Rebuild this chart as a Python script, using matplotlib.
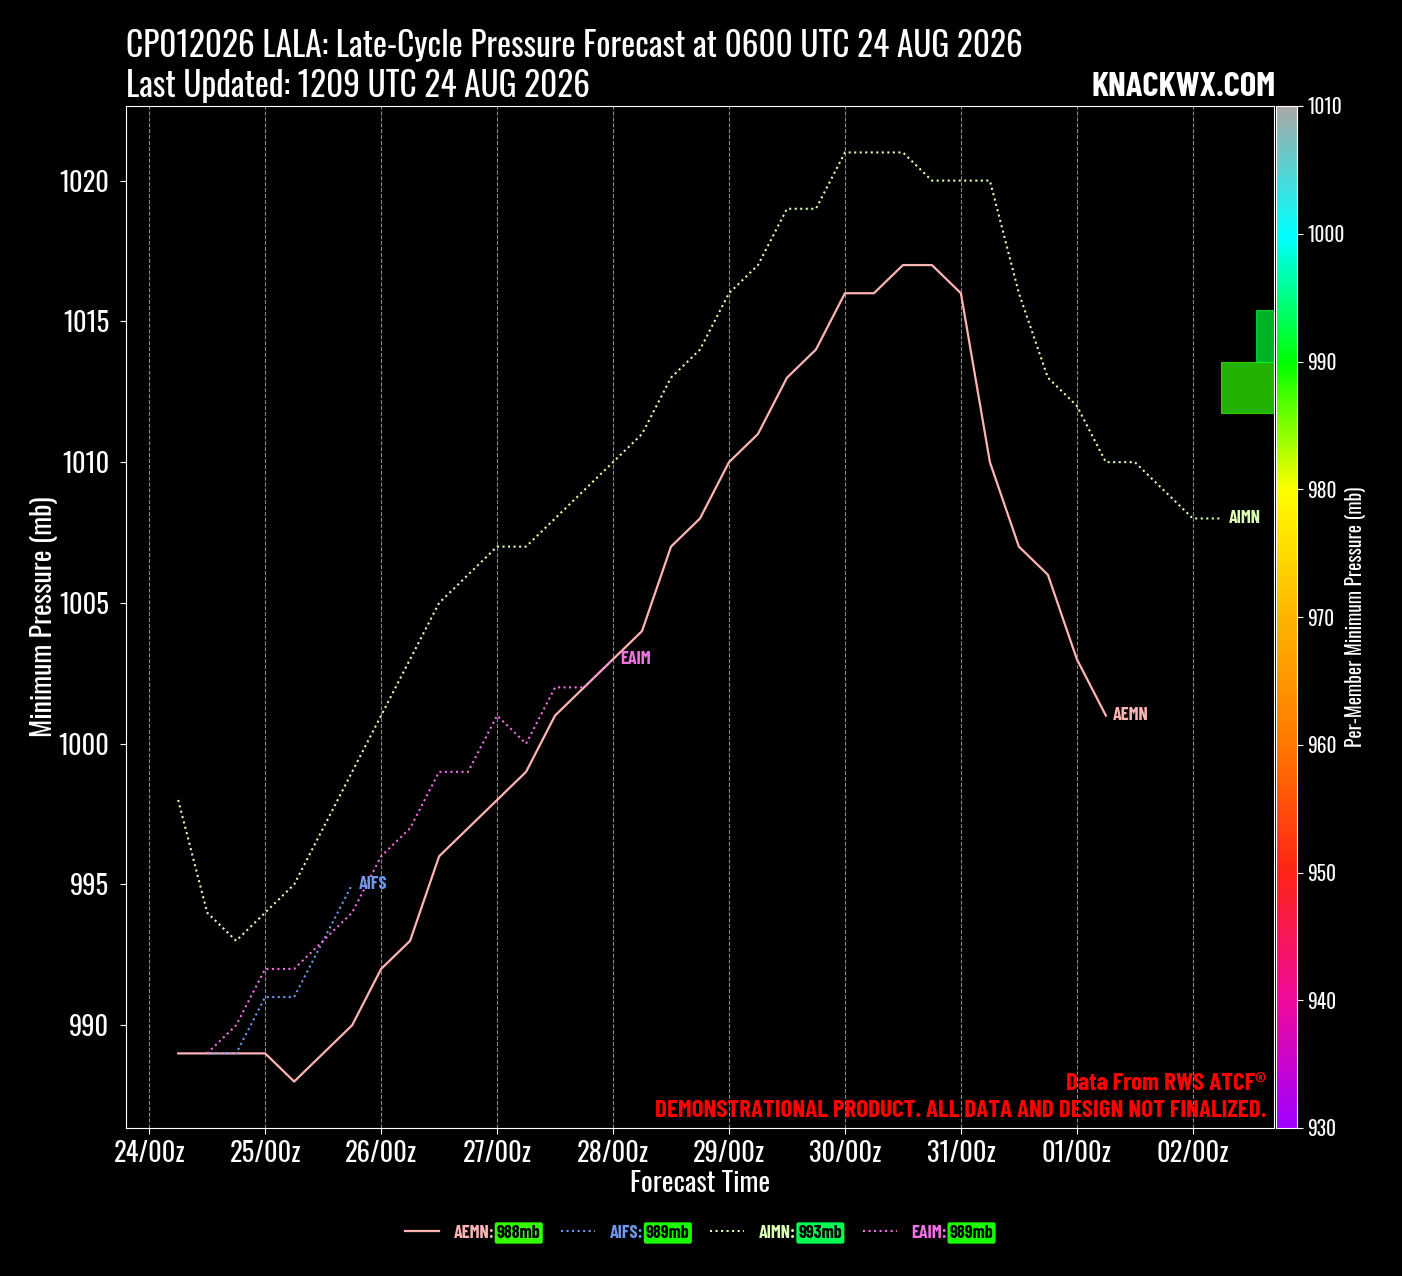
import numpy as np
import pandas as pd
import matplotlib
matplotlib.use("Agg")
import matplotlib.pyplot as plt
import matplotlib.dates as mdates
from matplotlib.colors import LinearSegmentedColormap, Normalize
from matplotlib.colorbar import ColorbarBase

plt.rcParams['font.family'] = ['Oswald', 'Barlow Condensed', 'DejaVu Sans']
BOLD = ['Barlow Condensed', 'DejaVu Sans']

# data: 6-hourly minimum pressure (mb) per member
aemn_start = '2026-08-24 06:00'
aemn = [989, 989, 989, 989, 988, 989, 990, 992, 993, 996, 997, 998, 999, 1001,
        1002, 1003, 1004, 1007, 1008, 1010, 1011, 1013, 1014, 1016, 1016, 1017,
        1017, 1016, 1010, 1007, 1006, 1003, 1001]
aifs_start = '2026-08-24 12:00'
aifs = [989, 989, 991, 991, 993, 995]
aimn_start = '2026-08-24 06:00'
aimn = [998, 994, 993, 994, 995, 997, 999, 1001, 1003, 1005, 1006, 1007, 1007,
        1008, 1009, 1010, 1011, 1013, 1014, 1016, 1017, 1019, 1019, 1021, 1021,
        1021, 1020, 1020, 1020, 1016, 1013, 1012, 1010, 1010, 1009, 1008, 1008]
eaim_start = '2026-08-24 12:00'
eaim = [989, 990, 992, 992, 993, 994, 996, 997, 999, 999, 1001, 1000, 1002,
        1002, 1003]

members = ['AEMN', 'AIFS', 'AIMN', 'EAIM']
starts = [aemn_start, aifs_start, aimn_start, eaim_start]
series = [aemn, aifs, aimn, eaim]
colors = ['#ffb4b4', '#6f98ec', '#dcffb4', '#f070e6']
styles = ['-', ':', ':', ':']

# colormap for per-member minimum pressure
cmap = LinearSegmentedColormap.from_list('pres', [
    (0.000, '#a000ff'), (0.125, '#f00a9a'), (0.250, '#ff2414'),
    (0.375, '#ff7800'), (0.500, '#ffb400'), (0.625, '#ffff00'),
    (0.750, '#00ff00'), (0.875, '#00ffff'), (1.000, '#a8a8a8')])
norm = Normalize(930, 1010)

fig = plt.figure(figsize=(14.02, 12.76), dpi=100, facecolor='black')
W, H = 1402, 1276
ax = fig.add_axes([126 / W, 1 - 1128 / H, (1274 - 126) / W, (1128 - 106) / H])
ax.set_facecolor('black')

handles = []
for name, st, vals, c, ls in zip(members, starts, series, colors, styles):
    t = pd.date_range(st, periods=len(vals), freq='6h')
    lw = 1.6 if ls == '-' else 1.5
    h, = ax.plot(t, vals, color=c, linestyle=ls, lw=lw, label=name + ':')
    handles.append(h)
    ax.annotate(name, (t[-1], vals[-1]), xytext=(5, 0), textcoords='offset points',
                color=c, fontsize=13, fontweight='bold', family=BOLD,
                va='center', ha='left')

ax.xaxis.set_major_locator(mdates.DayLocator())
ax.xaxis.set_major_formatter(mdates.DateFormatter('%d/%Hz'))
ax.grid(axis='x', color='#aaaaaa', linestyle='--', lw=0.8, alpha=0.8)
ax.set_yticks([990, 995, 1000, 1005, 1010, 1015, 1020])
ax.tick_params(colors='white', labelsize=19, length=4)
ax.tick_params(axis='x', pad=5)
ax.tick_params(axis='y', pad=8)
for s in ax.spines.values():
    s.set_color('white')
ax.set_xlabel('Forecast Time', color='white', fontsize=20, labelpad=2)
ax.set_ylabel('Minimum Pressure (mb)', color='white', fontsize=20, labelpad=0)

ax.text(0.993, 0.043, 'Data From RWS ATCF®', transform=ax.transAxes, color='red',
        fontsize=18, fontweight='bold', family=BOLD, ha='right', va='center')
ax.text(0.993, 0.017, 'DEMONSTRATIONAL PRODUCT. ALL DATA AND DESIGN NOT FINALIZED.',
        transform=ax.transAxes, color='red', fontsize=18, fontweight='bold',
        family=BOLD, ha='right', va='center')

# histogram of member minima, on the colorbar scale
mins = [min(v) for v in series]
hax = fig.add_axes([1150 / W, 1 - 1128 / H, (1274 - 1150) / W, (1128 - 106) / H])
hax.patch.set_alpha(0)
hax.axis('off')
bins = np.arange(930, 1011, 4)
counts, edges = np.histogram(mins, bins=bins)
centers = (edges[:-1] + edges[1:]) / 2
for cnt, lo, cen in zip(counts, edges[:-1], centers):
    if cnt:
        col = cmap(norm(cen))
        hax.barh(lo, cnt, height=4, align='edge', left=0, color=col, alpha=0.7,
                 edgecolor=col, lw=0.8)
hax.set_ylim(930, 1010)
hax.set_xlim(7, 0)

# colorbar
cax = fig.add_axes([1276 / W, 1 - 1128 / H, 21 / W, (1128 - 106) / H])
cb = ColorbarBase(cax, cmap=cmap, norm=norm, orientation='vertical')
cb.set_ticks(np.arange(930, 1011, 10))
cb.outline.set_edgecolor('white')
cax.tick_params(colors='white', labelsize=14, length=4)
cb.set_label('Per-Member Minimum Pressure (mb)', color='white', fontsize=14, labelpad=0)

fig.text(126 / W, 1 - 45 / H,
         'CP012026 LALA: Late-Cycle Pressure Forecast at 0600 UTC 24 AUG 2026',
         color='white', fontsize=24, ha='left', va='center')
fig.text(126 / W, 1 - 86 / H, 'Last Updated: 1209 UTC 24 AUG 2026',
         color='white', fontsize=24, ha='left', va='center')
fig.text(1276 / W, 1 - 87 / H, 'KNACKWX.COM', color='white', fontsize=25,
         fontweight='bold', family=BOLD, ha='right', va='center')

leg = fig.legend(handles, [m + ':' for m in members], loc='center',
                 bbox_to_anchor=(0.482, 1 - 1233 / H), ncol=4, frameon=False,
                 prop={'family': BOLD, 'weight': 'bold', 'size': 13},
                 handlelength=1.9, columnspacing=3.7, handletextpad=0.8)
for txt, c in zip(leg.get_texts(), colors):
    txt.set_color(c)
fig.canvas.draw()
for txt, m in zip(leg.get_texts(), mins):
    fig.add_artist(matplotlib.text.Annotation(
        f'{m}mb', xy=(1, 0.5), xycoords=txt, xytext=(2, 0),
        textcoords='offset points', ha='left', va='center', color='black',
        fontsize=13, fontweight='bold', family=BOLD,
        bbox=dict(boxstyle='round,pad=0.12', fc=cmap(norm(m)), ec='none')))

fig.savefig('out.png', dpi=100, facecolor='black')
